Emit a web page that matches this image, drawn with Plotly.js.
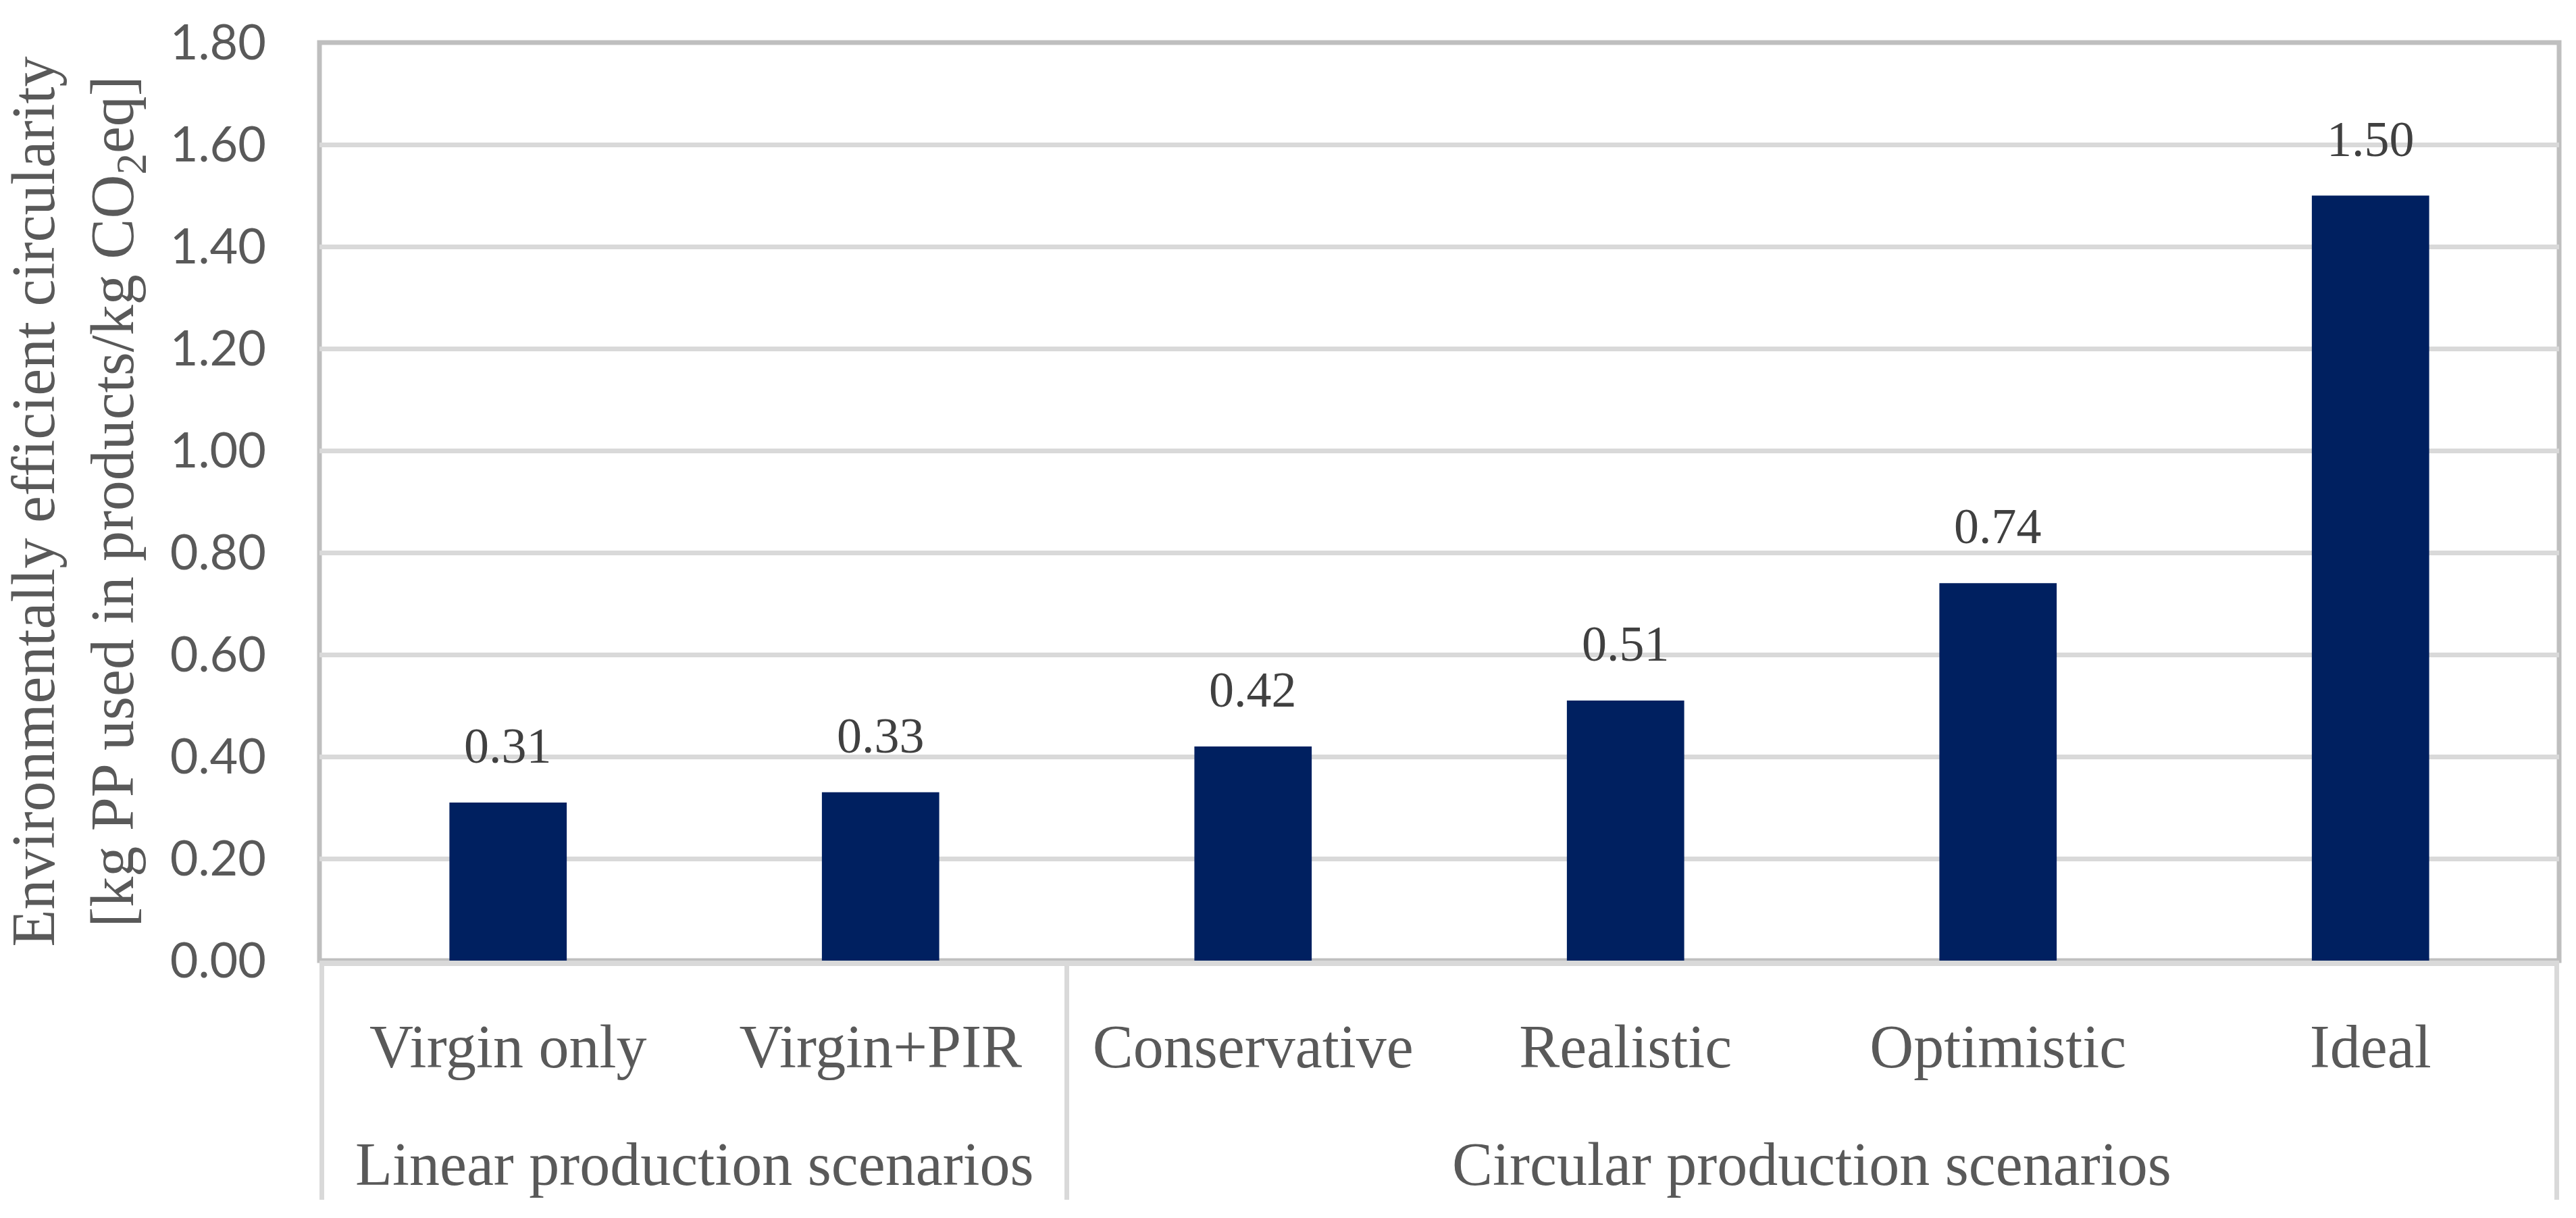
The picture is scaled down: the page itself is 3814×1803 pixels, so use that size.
<!DOCTYPE html>
<html>
<head>
<meta charset="utf-8">
<script src="https://cdn.plot.ly/plotly-3.0.1.min.js"></script>
<style>
  html, body { margin: 0; padding: 0; background: #ffffff; }
  #chart { width: 3814px; height: 1803px; }
</style>
</head>
<body>
<div id="chart"></div>
<script>
// scenario groups and names, one entry per bar
var groups = ['Linear production scenarios', 'Linear production scenarios',
              'Circular production scenarios', 'Circular production scenarios',
              'Circular production scenarios', 'Circular production scenarios'];
var scenarios = ['Virgin only', 'Virgin+PIR', 'Conservative', 'Realistic', 'Optimistic', 'Ideal'];
var circularity = [0.31, 0.33, 0.42, 0.51, 0.74, 1.50];

var y_ticks = [0, 0.2, 0.4, 0.6, 0.8, 1.0, 1.2, 1.4, 1.6, 1.8];

var serif = '"Liberation Serif", "Times New Roman", serif';
var sans = 'Lato, "Liberation Sans", Arial, sans-serif';

var trace = {
    type: 'bar',
    x: scenarios,
    y: circularity,
    marker: { color: '#002060' },
    hoverinfo: 'y'
};

// value labels above the bars
var annotations = [];
for (var i = 0; i < circularity.length; i++) {
    annotations.push({
        x: scenarios[i],
        y: circularity[i],
        xref: 'x',
        yref: 'y',
        text: circularity[i].toFixed(2),
        showarrow: false,
        yanchor: 'bottom',
        yshift: 41,
        font: { family: serif, size: 74, color: '#404040' }
    });
}

function divider(xpos) {
    return {
        type: 'line',
        xref: 'x',
        yref: 'paper',
        x0: xpos, x1: xpos,
        ysizemode: 'pixel',
        yanchor: 0,
        y0: 0, y1: -354,
        line: { color: '#d9d9d9', width: 7 },
        layer: 'above'
    };
}

// second row of the category axis: one label per group, divider lines at group edges
var shapes = [];
var start = 0;
for (var i = 1; i <= groups.length; i++) {
    if (i == groups.length || groups[i] != groups[start]) {
        annotations.push({
            x: (start + i - 1) / 2,
            y: 0,
            xref: 'x',
            yref: 'paper',
            yanchor: 'top',
            yshift: -250,
            text: groups[start],
            showarrow: false,
            font: { family: serif, size: 90, color: '#595959' }
        });
        if (start == 0) {
            shapes.push(divider(start - 0.5));
        }
        shapes.push(divider(i - 0.5));
        start = i;
    }
}

// plot area border
shapes.push({
    type: 'rect',
    xref: 'paper', yref: 'paper',
    x0: 0, x1: 1, y0: 0, y1: 1,
    line: { color: '#bfbfbf', width: 7 },
    layer: 'between'
});

var layout = {
    width: 3814,
    height: 1803,
    margin: { l: 473, r: 25, t: 63, b: 381 },
    paper_bgcolor: '#ffffff',
    plot_bgcolor: '#ffffff',
    showlegend: false,
    bargap: 0.685,
    xaxis: {
        type: 'category',
        showline: true,
        linecolor: '#d9d9d9',
        linewidth: 8,
        showgrid: false,
        ticks: '',
        ticklabelstandoff: 42,
        tickfont: { family: serif, size: 90, color: '#595959' }
    },
    yaxis: {
        range: [0, 1.8],
        tickvals: y_ticks,
        tickformat: '.2f',
        showgrid: true,
        gridcolor: '#d9d9d9',
        gridwidth: 7,
        zeroline: false,
        showline: false,
        ticks: '',
        ticklabelstandoff: 78,
        tickfont: { family: sans, size: 72, color: '#595959' },
        title: {
            text: 'Environmentally efficient circularity<br>[kg PP used in products/kg CO<sub>2</sub>eq]',
            font: { family: serif, size: 90, color: '#595959' },
            standoff: 30
        }
    },
    shapes: shapes,
    annotations: annotations
};

var config = { displayModeBar: false, staticPlot: true };
Plotly.newPlot('chart', [trace], layout, config);
</script>
</body>
</html>
